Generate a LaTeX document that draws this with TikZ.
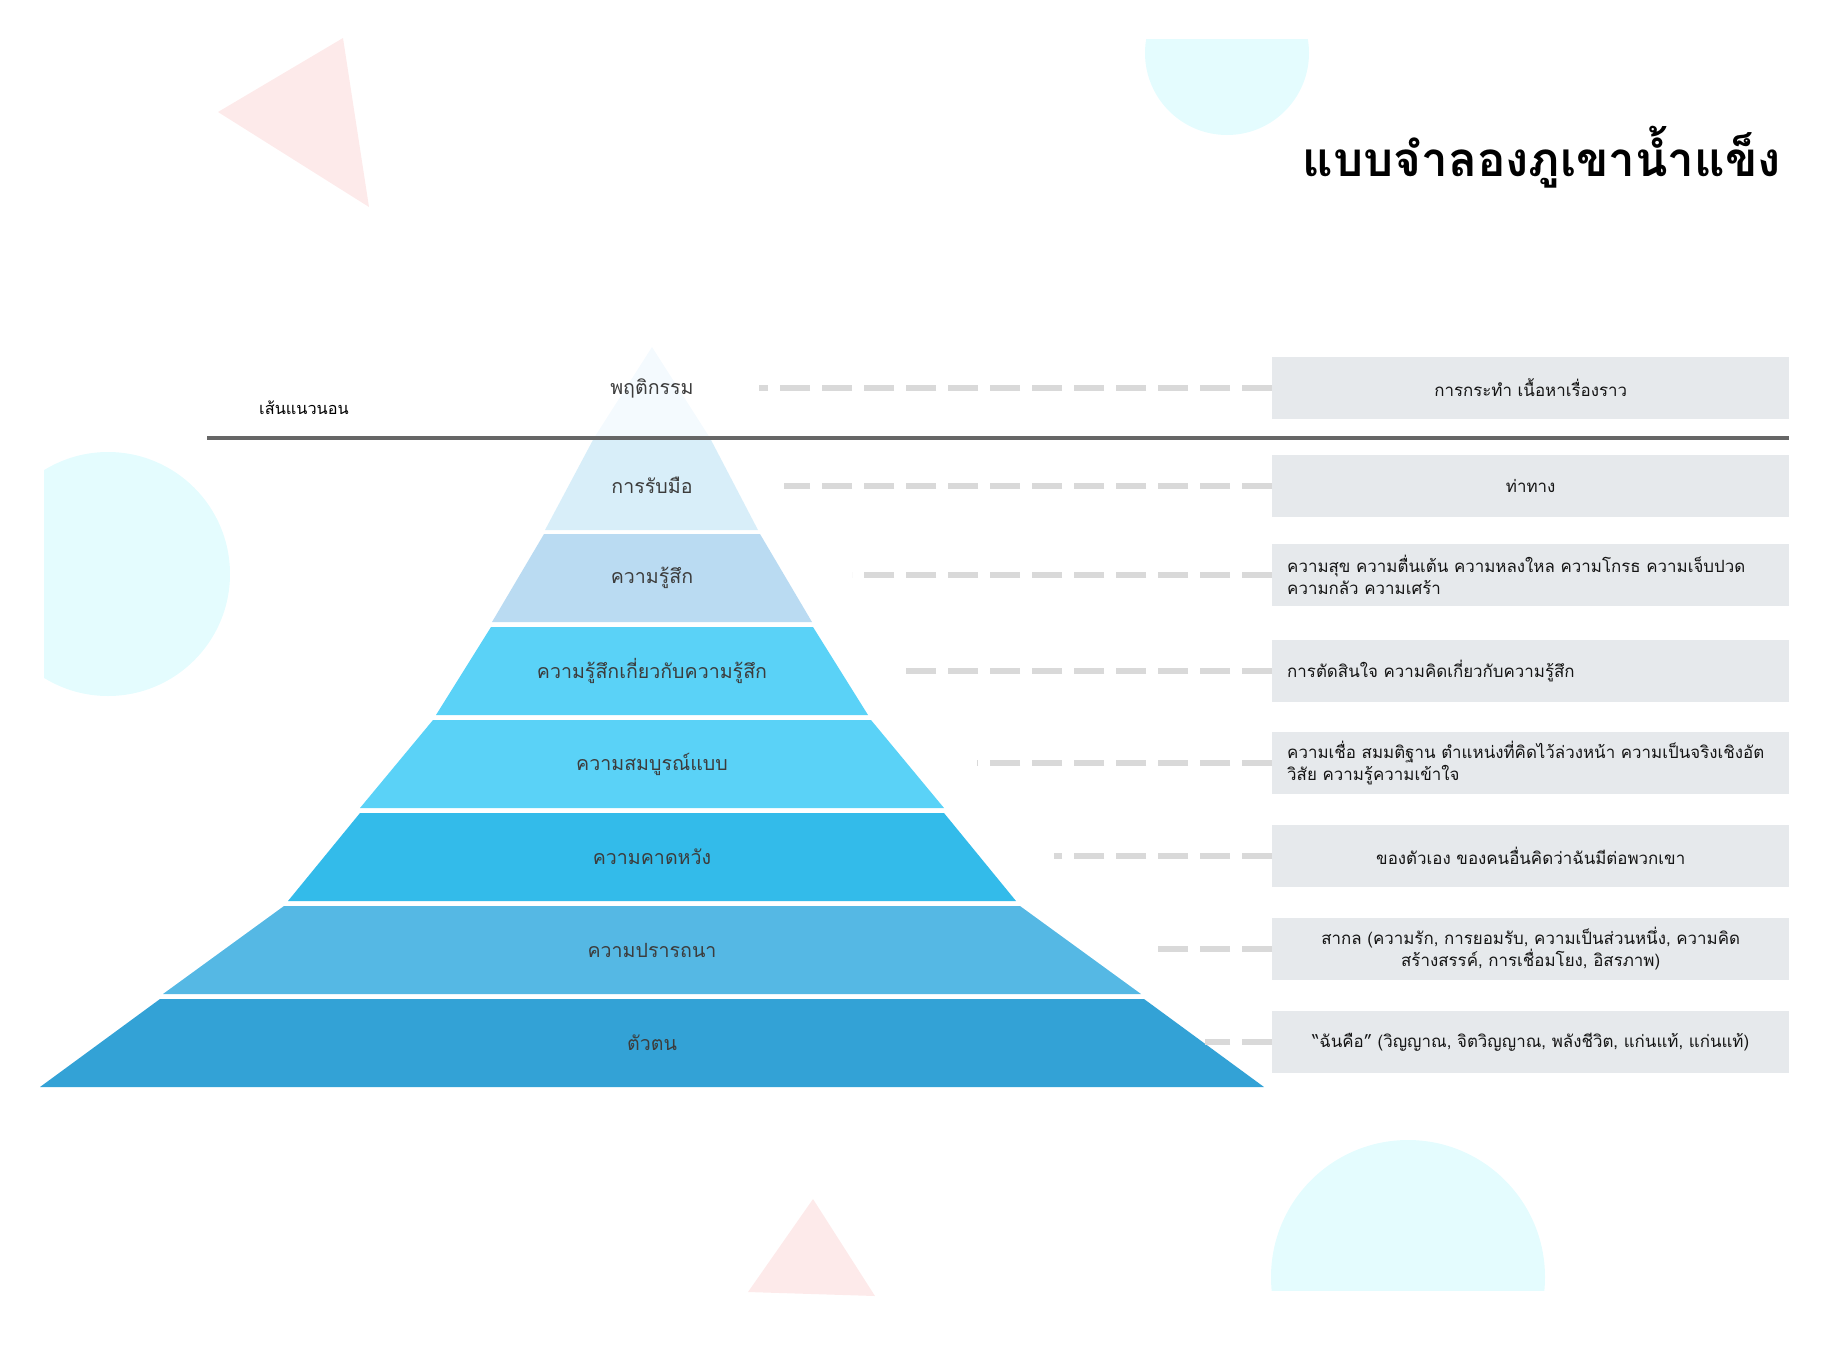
\documentclass[tikz,border=0pt]{standalone}
\usepackage{fontspec}
\newfontfamily\thai[Script=Thai]{Loma}
\definecolor{cyanlt}{RGB}{228,252,254}
\definecolor{pinklt}{RGB}{253,234,234}
\definecolor{topc}{RGB}{244,250,254}
\definecolor{c1}{RGB}{216,238,249}
\definecolor{c2}{RGB}{186,219,242}
\definecolor{c3}{RGB}{90,210,247}
\definecolor{c4}{RGB}{90,210,247}
\definecolor{c5}{RGB}{51,187,234}
\definecolor{c6}{RGB}{85,184,228}
\definecolor{c7}{RGB}{51,162,214}
\definecolor{boxg}{RGB}{230,233,236}
\definecolor{dashg}{RGB}{217,217,217}
\definecolor{lineg}{RGB}{102,102,102}
\definecolor{lbl}{RGB}{60,60,60}
\definecolor{btxt}{RGB}{20,20,20}
\tikzset{
  layerlabel/.style={font=\thai\fontsize{19.6}{24}\selectfont, text=lbl, inner sep=0pt},
  infobox/.style={rectangle, fill=boxg, anchor=west, minimum height=62pt,
    inner xsep=15pt, inner ysep=0pt, text width=487pt, text=btxt,
    font=\thai\fontsize{16.9}{22}\selectfont},
  infoc/.style={infobox, align=center},
  infol/.style={infobox, align=left},
  dashline/.style={draw=dashg, line width=6pt, dash pattern=on 30pt off 12pt}
}
\begin{document}
\begin{tikzpicture}[x=1pt,y=-1pt]
\useasboundingbox (0,0) rectangle (1847,1345);
% decorations
\fill[pinklt] (343,38) -- (369,207) -- (218,112) -- cycle;
\begin{scope}
  \clip (0,39) rectangle (1847,1345);
  \fill[cyanlt] (1227,53) circle[radius=82pt];
\end{scope}
\begin{scope}
  \clip (44,0) rectangle (1847,1345);
  \fill[cyanlt] (108,574) circle[radius=122pt];
\end{scope}
\begin{scope}
  \clip (0,0) rectangle (1847,1290);
  \fill[cyanlt] (1408,1277) circle[radius=137pt];
\end{scope}
\fill[pinklt] (813,1199) -- (875,1296) -- (748,1292) -- cycle;

% pyramid
\fill[topc] (652,347) -- (710,438) -- (594,438) -- cycle;
\fill[c1] (594,438) -- (710,438) -- (758,530) -- (545,530) -- cycle;
\fill[c2] (544,534) -- (760,534) -- (812,622) -- (492,622) -- cycle;
\fill[c3] (491,627) -- (813,627) -- (868,715) -- (436,715) -- cycle;
\fill[c4] (433,720) -- (871,720) -- (944,808) -- (360,808) -- cycle;
\fill[c5] (360,813) -- (944,813) -- (1016,901) -- (288,901) -- cycle;
\fill[c6] (284,906) -- (1020,906) -- (1141,994) -- (163,994) -- cycle;
\fill[c7] (160,999) -- (1144,999) -- (1264,1087) -- (40,1087) -- cycle;

% water line
\coordinate (wl1) at (207,438);
\coordinate (wl2) at (1789,438);
\draw[lineg, line width=4pt] (wl1) -- (wl2);
\node[font=\thai\fontsize{16.3}{20}\selectfont, text=black, inner sep=0pt] (wlabel) at (304,408) {เส้นแนวนอน};

% title
\node[font=\thai\bfseries\fontsize{47.5}{54}\selectfont, text=black, anchor=east, inner sep=0pt] (title) at (1781,157) {แบบจำลองภูเขาน้ำแข็ง};

% layer labels
\node[layerlabel] (l1) at (652,388) {พฤติกรรม};
\node[layerlabel] (l2) at (652,485) {การรับมือ};
\node[layerlabel] (l3) at (652,578) {ความรู้สึก};
\node[layerlabel] (l4) at (652,671) {ความรู้สึกเกี่ยวกับความรู้สึก};
\node[layerlabel] (l5) at (652,764) {ความสมบูรณ์แบบ};
\node[layerlabel] (l6) at (652,857) {ความคาดหวัง};
\node[layerlabel] (l7) at (652,950) {ความปรารถนา};
\node[layerlabel] (l8) at (652,1043) {ตัวตน};

% info boxes
\node[infoc] (b1) at (1272,388) {การกระทำ เนื้อหาเรื่องราว};
\node[infoc] (b2) at (1272,486) {ท่าทาง};
\node[infol] (b3) at (1272,575) {ความสุข ความตื่นเต้น ความหลงใหล ความโกรธ ความเจ็บปวด\\ความกลัว ความเศร้า};
\node[infol] (b4) at (1272,671) {การตัดสินใจ ความคิดเกี่ยวกับความรู้สึก};
\node[infol] (b5) at (1272,763) {ความเชื่อ สมมติฐาน ตำแหน่งที่คิดไว้ล่วงหน้า ความเป็นจริงเชิงอัต\\วิสัย ความรู้ความเข้าใจ};
\node[infoc] (b6) at (1272,856) {ของตัวเอง ของคนอื่นคิดว่าฉันมีต่อพวกเขา};
\node[infoc] (b7) at (1272,949) {สากล (ความรัก, การยอมรับ, ความเป็นส่วนหนึ่ง, ความคิด\\สร้างสรรค์, การเชื่อมโยง, อิสรภาพ)};
\node[infoc] (b8) at (1272,1042) {“ฉันคือ” (วิญญาณ, จิตวิญญาณ, พลังชีวิต, แก่นแท้, แก่นแท้)};

% connector ends
\coordinate (d1) at (759,388);
\coordinate (d2) at (784,486);
\coordinate (d3) at (852,575);
\coordinate (d4) at (906,671);
\coordinate (d5) at (977,763);
\coordinate (d6) at (1054,856);
\coordinate (d7) at (1158,949);
\coordinate (d8) at (1205,1042);
\foreach \i in {1,...,8} {
  \draw[dashline] (b\i.west) -- (d\i);
}
\end{tikzpicture}
\end{document}
